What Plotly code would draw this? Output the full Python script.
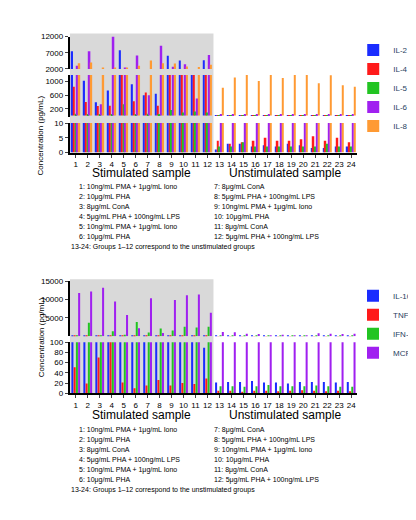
import plotly.graph_objects as go

groups = list(range(1, 25))
tick_labels = [str(g) for g in groups]

# Panel 1 cytokines
il2 = [7500,1030,390,740,7800,920,600,640,6100,4600,1500,4700, 1,3,3,2,2.5,2,3,2.5,1.5,1.5,2,2]
il4 = [850,400,280,290,1500,420,680,290,1500,1500,1500,1500, 4,3,3.5,4,5,4,4,4.5,5.5,4,5,3.5]
il5 = [50,30,20,20,330,20,50,20,160,90,120,90, 2,2,3.5,2,2,2,2,2,2,3,2,2]
il6 = [3000,7500,330,12000,2500,6200,600,9200,2700,3500,500,6300, 40,40,30,30,40,40,40,40,20,20,20,20]
il8 = [3800,4000,2500,2500,2500,3000,4600,3800,3700,2800,2600,3300, 820,1120,1200,1020,1200,1110,1200,1200,950,1190,890,850]

# Panel 2 cytokines
il10 = [300,300,300,300,200,200,300,150,200,200,101,89, 21,22,22,24,21,21,19,22,22,22,21,22]
tnf = [51,19,70,150,21,10,15,26,15,20,18,29, 5,5,3,5,5,4,5,6,5,4,5,4]
ifng = [200,3700,120,1400,400,3900,1000,2100,1600,2600,2400,2600, 14,14,13,14,16,14,14,14,15,14,13,13]
mcp1 = [11800,12200,13200,9500,5800,2200,10400,900,9900,11200,11400,6400, 1200,1100,700,600,300,400,300,200,800,700,600,700]

conditions = ["1: 10ng/mL PMA + 1μg/mL Iono", "2: 10μg/mL PHA", "3: 8μg/mL ConA",
              "4: 5μg/mL PHA + 100ng/mL LPS", "5: 10ng/mL PMA + 1μg/mL Iono", "6: 10μg/mL PHA",
              "7: 8μg/mL ConA", "8: 5μg/mL PHA + 100ng/mL LPS", "9: 10ng/mL PMA + 1μg/mL Iono",
              "10: 10μg/mL PHA", "11: 8μg/mL ConA", "12: 5μg/mL PHA + 100ng/mL LPS"]
footnote = "13-24: Groups 1–12 correspond to the unstimulated groups"

BLUE, RED, GREEN, PURPLE, ORANGE = "#1a2cff", "#ff1a1a", "#22c422", "#a020f0", "#ff9a33"
W, H = 416, 520
FONT = "Arial, Liberation Sans, sans-serif"

def py(px):
    return 1 - px / H

fig = go.Figure()
XD = [63 / W, 356 / W]

panel1 = [("IL-2", il2, BLUE), ("IL-4", il4, RED), ("IL-5", il5, GREEN), ("IL-6", il6, PURPLE), ("IL-8", il8, ORANGE)]
panel2 = [("IL-10", il10, BLUE), ("TNF-α", tnf, RED), ("IFN-γ", ifng, GREEN), ("MCP-1", mcp1, PURPLE)]

seg1 = [("y", 113, 143, [0, 10], [0, 5, 10]),
        ("y2", 64, 107, [-50, 1200], [200, 600, 1000]),
        ("y3", 25, 58, [2000, 12000], [2000, 7000, 12000])]
seg2 = [("y4", 336, 388, [0, 100], [0, 20, 40, 60, 80, 100]),
        ("y5", 274, 330, [0, 15000], [5000, 10000, 15000])]

def add_panel(series, segs, xname, legend):
    for i, (yn, t, b, rng, tv) in enumerate(segs):
        for name, vals, col in series:
            fig.add_trace(go.Bar(x=groups, y=vals, name=name, marker_color=col,
                                 xaxis=xname, yaxis=yn, showlegend=(i == 0),
                                 legend=legend, marker_line_width=0))
        key = "yaxis" + yn[1:]
        fig.layout[key] = dict(domain=[py(b), py(t)], range=rng, tickvals=tv,
                               ticktext=[str(v) for v in tv],
                               anchor=xname, showline=True, linecolor="black", linewidth=2,
                               ticks="outside", ticklen=3, showgrid=False, zeroline=False,
                               tickfont=dict(size=8, family=FONT, color="black"))

add_panel(panel1, seg1, "x", "legend")
add_panel(panel2, seg2, "x2", "legend2")

for key, anc in (("xaxis", "y"), ("xaxis2", "y4")):
    fig.layout[key] = dict(domain=XD, range=[0.5, 24.5], tickvals=groups, ticktext=tick_labels,
                           anchor=anc, showline=True, linecolor="black", linewidth=2,
                           ticks="outside", ticklen=3, showgrid=False,
                           tickfont=dict(size=8, family=FONT, color="black"))

for xr, top, bot in (("x", 22, 143), ("x2", 272, 388)):
    fig.add_shape(type="rect", xref=xr, yref="paper", x0=0.5, x1=12.5, y0=py(bot), y1=py(top),
                  fillcolor="#d9d9d9", line_width=0, layer="below")

ann = []
for yc in (83, 331):
    ann.append(dict(text="Concentration (pg/mL)", x=27 / W, y=py(yc), xref="paper", yref="paper",
                    textangle=-90, showarrow=False, font=dict(size=8, family=FONT, color="black")))
for base in (155, 401):
    for txt, xc in (("Stimulated sample", 6.5), ("Unstimulated sample", 18.5)):
        ann.append(dict(text=txt, x=xc, xref="x", y=py(base), yref="paper", yanchor="top",
                        showarrow=False, font=dict(size=12, family=FONT, color="black")))
for top in (172, 419):
    for i, c in enumerate(conditions):
        col = i // 6
        row = i % 6
        ann.append(dict(text=c, x=(70 if col == 0 else 208) / W, y=py(top + row * 10.2),
                        xref="paper", yref="paper", xanchor="left", yanchor="top", showarrow=False,
                        font=dict(size=7, family=FONT, color="black")))
    ann.append(dict(text=footnote, x=62 / W, y=py(top + 6 * 10.2), xref="paper", yref="paper",
                    xanchor="left", yanchor="top", showarrow=False,
                    font=dict(size=7, family=FONT, color="black")))

leg = dict(xanchor="left", yanchor="top", font=dict(size=8, family=FONT),
           bgcolor="rgba(0,0,0,0)", itemwidth=30, tracegroupgap=0)
fig.update_layout(width=W, height=H, margin=dict(l=0, r=0, t=0, b=0),
                  paper_bgcolor="white", plot_bgcolor="rgba(0,0,0,0)",
                  barmode="group", bargap=0.25, bargroupgap=0.1, annotations=ann,
                  legend=dict(leg, x=352 / W, y=py(24)),
                  legend2=dict(leg, x=352 / W, y=py(274)))

fig.write_html("out.html")
